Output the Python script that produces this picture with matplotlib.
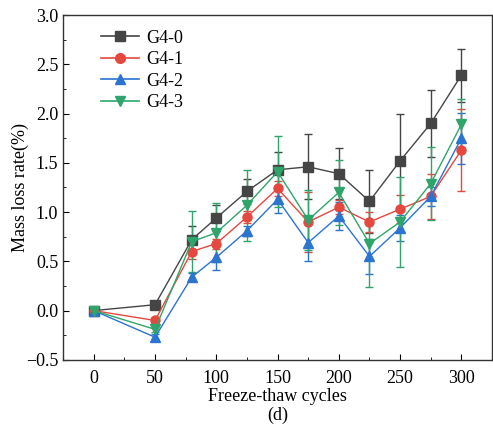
import matplotlib
matplotlib.use("Agg")
import matplotlib.pyplot as plt
from matplotlib.ticker import MultipleLocator
from matplotlib.lines import Line2D

plt.rcParams['font.family'] = ['Liberation Serif', 'DejaVu Serif']

cycles = [0, 50, 80, 100, 125, 150, 175, 200, 225, 250, 275, 300]
g40 = [0.0, 0.06, 0.72, 0.94, 1.21, 1.43, 1.46, 1.39, 1.11, 1.52, 1.90, 2.39]
g40_err = [0.02, 0.02, 0.14, 0.13, 0.13, 0.18, 0.33, 0.26, 0.32, 0.48, 0.34, 0.27]
g41 = [0.0, -0.10, 0.60, 0.68, 0.95, 1.24, 0.90, 1.05, 0.90, 1.03, 1.16, 1.63]
g41_err = [0.02, 0.03, 0.08, 0.05, 0.06, 0.08, 0.30, 0.07, 0.10, 0.14, 0.23, 0.42]
g42 = [0.0, -0.27, 0.34, 0.54, 0.81, 1.13, 0.69, 0.96, 0.55, 0.84, 1.16, 1.75]
g42_err = [0.02, 0.03, 0.04, 0.13, 0.05, 0.14, 0.19, 0.14, 0.18, 0.13, 0.10, 0.26]
g43 = [0.0, -0.19, 0.70, 0.79, 1.07, 1.41, 0.92, 1.20, 0.68, 0.90, 1.29, 1.89]
g43_err = [0.02, 0.03, 0.31, 0.30, 0.36, 0.36, 0.30, 0.33, 0.44, 0.46, 0.37, 0.26]

labels = ['G4-0', 'G4-1', 'G4-2', 'G4-3']
colors = ['#454545', '#e5483f', '#2b74d0', '#2fa56b']
markers = ['s', 'o', '^', 'v']
series = [(g40, g40_err), (g41, g41_err), (g42, g42_err), (g43, g43_err)]

fig = plt.figure(figsize=(4.93, 4.32), dpi=100)
ax = fig.add_axes([0.128, 0.167, 0.870, 0.798])

handles = []
for (vals, errs), lab, c, m in zip(series, labels, colors, markers):
    ax.errorbar(cycles, vals, yerr=errs, color=c, marker=m, markersize=6.5,
                linewidth=1.0, elinewidth=1.0, capsize=3, capthick=1.0)
    handles.append(Line2D([], [], color=c, marker=m, markersize=7,
                          linewidth=1.2, label=lab))

ax.set_xlim(-25, 325)
ax.set_ylim(-0.5, 3.0)
ax.xaxis.set_major_locator(MultipleLocator(50))
ax.xaxis.set_minor_locator(MultipleLocator(25))
ax.yaxis.set_major_locator(MultipleLocator(0.5))
ax.yaxis.set_minor_locator(MultipleLocator(0.25))
ax.tick_params(which='both', direction='in', top=False, right=False)
ax.tick_params(which='major', length=4, labelsize=13)
ax.tick_params(axis='x', which='major', pad=7)
ax.tick_params(which='minor', length=2)
for s in ax.spines.values():
    s.set_linewidth(1.0)
    s.set_color('#333333')

ax.set_ylabel('Mass loss rate(%)', fontsize=13, labelpad=-2)
ax.set_xlabel('Freeze-thaw cycles\n(d)', fontsize=13, labelpad=1, linespacing=1.15)

ax.legend(handles=handles, loc='upper left', frameon=False, fontsize=13,
          handlelength=2.1, labelspacing=0.25, handletextpad=0.4,
          borderaxespad=0.4, bbox_to_anchor=(0.055, 1.0))

fig.savefig('out.png', dpi=100)
